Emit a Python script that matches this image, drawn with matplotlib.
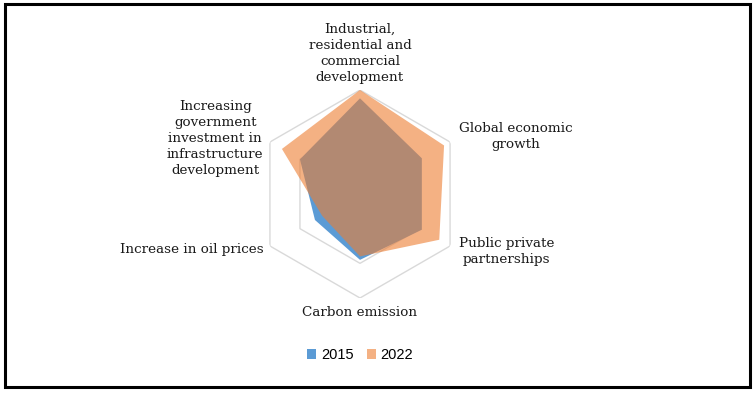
import numpy as np
import matplotlib
matplotlib.use("Agg")
import matplotlib.pyplot as plt
from matplotlib.patches import Rectangle

###############################################################################
# data (scale 0 - 1.5)
###############################################################################
categories = ['Industrial,\nresidential and\ncommercial\ndevelopment',
              'Global economic\ngrowth',
              'Public private\npartnerships',
              'Carbon emission',
              'Increase in oil prices',
              'Increasing\ngovernment\ninvestment in\ninfrastructure\ndevelopment']
series_names = ['2015', '2022']
values_2015 = [1.38, 1.03, 1.03, 0.95, 0.75, 1.00]
values_2022 = [1.50, 1.40, 1.32, 0.90, 0.63, 1.30]
grid_levels = [0.5, 1.0, 1.5]

###############################################################################
W, H = 755, 393
fig = plt.figure(figsize=(W/100, H/100), dpi=100)

cx, cy, R = 360, 194, 104
ax = fig.add_axes([(cx-R)/W, (H-cy-R)/H, 2*R/W, 2*R/H], projection='polar')
ax.set_theta_offset(np.pi/2)
ax.set_theta_direction(-1)
ax.set_ylim(0, grid_levels[-1])
ax.grid(False)
ax.spines['polar'].set_visible(False)
ax.set_xticks([])
ax.set_yticks([])
ax.patch.set_alpha(0)

N = len(categories)
ang = np.linspace(0, 2*np.pi, N, endpoint=False)
ang_c = np.append(ang, ang[0])

# hexagonal grid
for g in grid_levels:
    ax.plot(ang_c, [g]*(N+1), color='#D9D9D9', lw=1.0, zorder=1)

v15 = np.append(values_2015, values_2015[0])
v22 = np.append(values_2022, values_2022[0])
h1 = ax.fill(ang_c, v15, color='#5B9BD5', alpha=1.0, lw=0, zorder=2)[0]
h2 = ax.fill(ang_c, v22, color='#ED7D31', alpha=0.6, lw=0, zorder=3)[0]

# category labels
lab_font = dict(family='DejaVu Serif', fontsize=9.7, color='#1a1a1a', linespacing=1.3)
rl = grid_levels[-1]
ax.text(ang[0], rl*1.06, categories[0], ha='center', va='bottom', multialignment='center', **lab_font)
ax.text(ang[1], rl*1.10, categories[1], ha='left', va='center', multialignment='center', **lab_font)
ax.text(ang[2], rl*1.10, categories[2], ha='left', va='center', multialignment='center', **lab_font)
ax.text(ang[3], rl*1.08, categories[3], ha='center', va='top', multialignment='center', **lab_font)
ax.text(ang[4], rl*1.07, categories[4], ha='right', va='center', multialignment='center', **lab_font)
ax.text(ang[5], rl*1.07, categories[5], ha='right', va='center', multialignment='center', **lab_font)

fig.legend([h1, h2], series_names, loc='center', bbox_to_anchor=(cx/W, 1-355/H),
           ncol=2, frameon=False, handlelength=0.65, handleheight=0.65,
           handletextpad=0.3, columnspacing=0.9,
           prop=dict(family='Liberation Sans', size=10.5))

# outer frame
fig.patches.append(Rectangle((5/W, 6/H), 745/W, 383/H, transform=fig.transFigure,
                             fill=False, edgecolor='black', lw=2.2))

fig.savefig('out.png', dpi=100)
